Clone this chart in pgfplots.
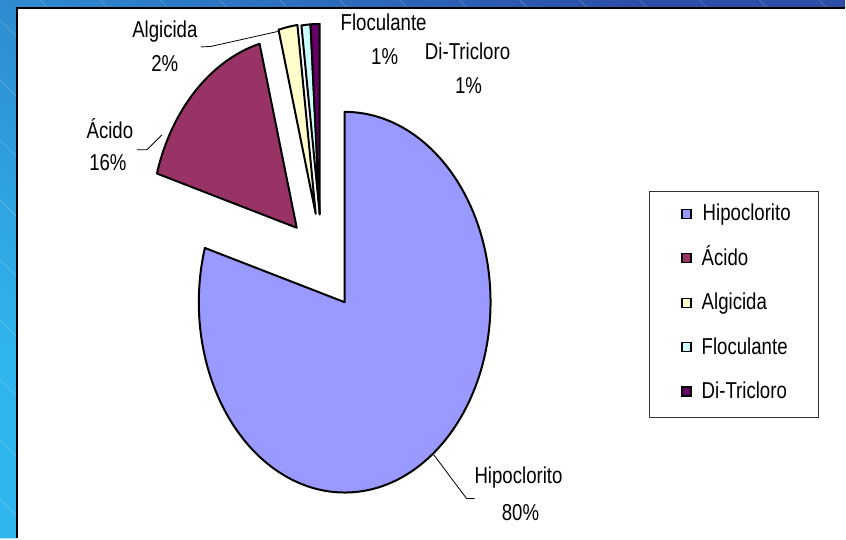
\documentclass[border=0pt]{standalone}
\usepackage{fontspec}
\setmainfont{Liberation Sans}
\usepackage{pgfplots}
\usepackage{pgfplotstable}
\pgfplotsset{compat=1.18}
\definecolor{slice0}{HTML}{9999FF}
\definecolor{slice1}{HTML}{993366}
\definecolor{slice2}{HTML}{FFFFCC}
\definecolor{slice3}{HTML}{CCFFFF}
\definecolor{slice4}{HTML}{660066}
\definecolor{bgdark}{HTML}{2C4EA6}
\definecolor{bglight}{HTML}{2FB6EE}

% share of each product (percent) and explode offset of its slice
\pgfplotstableread{
name value dx dy
Hipoclorito 79.6 0 0
Acido 16.3 -48 74.5
Algicida 2.1 -29 88.5
Floculante 1.0 -25 88
Di-Tricloro 1.0 -25 88
}\piedata

\newcommand\lbl[1]{{\fontsize{11.5}{13}\selectfont\scalebox{0.81}[1]{#1}}}

\begin{document}
\begin{tikzpicture}
\def\cum{90}
\pgfplotsforeachungrouped \i in {0,...,4}{%
  \pgfplotstablegetelem{\i}{value}\of\piedata\let\v\pgfplotsretval
  \pgfplotstablegetelem{\i}{dx}\of\piedata\let\ddx\pgfplotsretval
  \pgfplotstablegetelem{\i}{dy}\of\piedata\let\ddy\pgfplotsretval
  \pgfmathsetmacro\e{\cum-3.6*\v}
  \expandafter\xdef\csname sa\i\endcsname{\cum}
  \expandafter\xdef\csname ea\i\endcsname{\e}
  \pgfmathsetmacro\px{345+\ddx}
  \pgfmathsetmacro\py{236.5+\ddy}
  \expandafter\xdef\csname px\i\endcsname{\px}
  \expandafter\xdef\csname py\i\endcsname{\py}
  \xdef\cum{\e}
}
\begin{axis}[width=423pt, height=269.5pt, scale only axis,
  xmin=0, xmax=846, ymin=0, ymax=539, hide axis, clip=false]
% background frame
\fill[white] (axis cs:0,0) rectangle (axis cs:846,539);
\shade[top color=bgdark, bottom color=bglight, shading angle=-40]
  (axis cs:0,0) -- (axis cs:17,0) -- (axis cs:17,531) -- (axis cs:846,531) -- (axis cs:846,539) -- (axis cs:0,539) -- cycle;
\begin{scope}
\clip (axis cs:0,0) -- (axis cs:17,0) -- (axis cs:17,531) -- (axis cs:846,531) -- (axis cs:846,539) -- (axis cs:0,539) -- cycle;
\pgfplotsinvokeforeach{-560,-500,...,840}{%
  \draw[overlay, white, opacity=0.18, line width=0.4pt] (axis cs:#1,539) -- (axis cs:{#1+539},0);
}
\end{scope}
\draw[black, line width=0.8pt] (axis cs:17,0) -- (axis cs:17,531) -- (axis cs:846,531);
% slices
\pgfplotsinvokeforeach{0,...,4}{%
  \filldraw[fill=slice#1, draw=black, line width=1pt, line join=round]
   (axis cs:\csname px#1\endcsname,\csname py#1\endcsname)
   -- ++({73pt*cos(\csname sa#1\endcsname)},{95.25pt*sin(\csname sa#1\endcsname)})
   arc[start angle=\csname sa#1\endcsname, end angle=\csname ea#1\endcsname, x radius=73pt, y radius=95.25pt] -- cycle;
}
% leader lines
\draw[black, line width=0.4pt] (axis cs:201,492) -- (axis cs:211,492.5) -- (axis cs:278,507.5);
\draw[black, line width=0.4pt] (axis cs:137,389) -- (axis cs:147,389) -- (axis cs:162,404);
\draw[black, line width=0.4pt] (axis cs:434,84) -- (axis cs:467,40) -- (axis cs:475,40);
% data labels
\node[anchor=base] at (axis cs:165,501) {\lbl{Algicida}};
\node[anchor=base] at (axis cs:165,467) {\lbl{2\%}};
\node[anchor=base] at (axis cs:110,400) {\lbl{Ácido}};
\node[anchor=base] at (axis cs:108,368) {\lbl{16\%}};
\node[anchor=base] at (axis cs:384,508) {\lbl{Floculante}};
\node[anchor=base] at (axis cs:385,474) {\lbl{1\%}};
\node[anchor=base] at (axis cs:468,479) {\lbl{Di-Tricloro}};
\node[anchor=base] at (axis cs:469,445) {\lbl{1\%}};
\node[anchor=base] at (axis cs:519,55) {\lbl{Hipoclorito}};
\node[anchor=base] at (axis cs:521,18) {\lbl{80\%}};
% legend
\draw[black!80, line width=0.5pt] (axis cs:650,121) rectangle (axis cs:819,347);
\pgfplotsinvokeforeach{0,...,4}{%
  \filldraw[fill=slice#1, draw=black, line width=0.7pt]
   (axis cs:682.5,{320.5-44.5*#1}) rectangle (axis cs:691.5,{329.5-44.5*#1});
}
\node[anchor=base west, inner sep=0pt] at (axis cs:703,318) {\lbl{Hipoclorito}};
\node[anchor=base west, inner sep=0pt] at (axis cs:702,273.5) {\lbl{Ácido}};
\node[anchor=base west, inner sep=0pt] at (axis cs:702,229) {\lbl{Algicida}};
\node[anchor=base west, inner sep=0pt] at (axis cs:702,184.5) {\lbl{Floculante}};
\node[anchor=base west, inner sep=0pt] at (axis cs:702,140) {\lbl{Di-Tricloro}};
\end{axis}
\end{tikzpicture}
\end{document}
